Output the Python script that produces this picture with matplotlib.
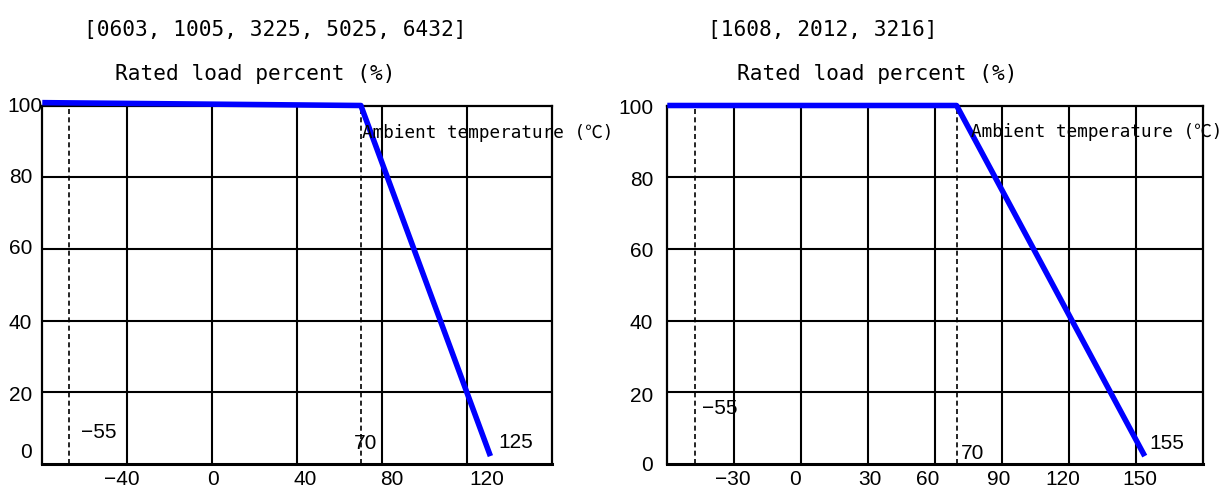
import matplotlib
matplotlib.use('Agg')
import matplotlib.pyplot as plt

# left chart: [0603, 1005, 3225, 5025, 6432]
left_title = '[0603, 1005, 3225, 5025, 6432]'
left_xlim = (-80, 160)
left_grid_x = [-40, 0, 40, 80, 120]
left_xtick_pos = [-42.7, 0.3, 43.7, 84.5, 129.3]
left_xtick_lab = ['\u221240', '0', '40', '80', '120']
left_ytick_pos = [99.6, 79.8, 60, 39.3, 19.2, 3.1]
left_curve_x = [-80, 70, 131]
left_curve_y = [100.8, 100, 2.2]
left_dash_x = [-67.2, 69.9]
left_notes = [('\u221255', -53.4, 8.7), ('70', 72.3, 5.6), ('125', 143, 5.9)]
left_ambient = (70.4, 92.3)

# right chart: [1608, 2012, 3216]
right_title = '[1608, 2012, 3216]'
right_xlim = (-60, 180)
right_grid_x = [-30, 0, 30, 60, 90, 120, 150]
right_xtick_pos = [-30.7, -3, 31, 56.8, 88.5, 117.3, 151.7]
right_xtick_lab = ['\u221230', '0', '30', '60', '90', '120', '150']
right_ytick_pos = [99.2, 79.2, 59.4, 39.2, 18.8, -0.5]
right_curve_x = [-60, 69.6, 153.9]
right_curve_y = [100, 100, 2.2]
right_dash_x = [-47.7, 69.6]
right_notes = [('\u221255', -36.3, 15.5), ('70', 76.6, 2.8), ('155', 164, 5.8)]
right_ambient = (76.2, 92.6)

grid_y = [20, 40, 60, 80]
ytick_lab = ['100', '80', '60', '40', '20', '0']

num_font = ['Liberation Sans Narrow', 'Liberation Sans', 'DejaVu Sans']
mono_font = ['DejaVu Sans Mono', 'Noto Sans CJK KR']

fig = plt.figure(figsize=(12.27, 4.88), dpi=100)


def draw(rect, title, title_cx, rated_cx, xlim, grid_x, xpos, xlab, ypos,
         cx, cy, dash_x, notes, amb, lab_gap, first_gap):
    ax = fig.add_axes(rect)
    ax.set_xlim(*xlim)
    ax.set_ylim(0, 100)
    for gx in grid_x:
        ax.axvline(gx, color='black', lw=1.5, zorder=1)
    for gy in grid_y:
        ax.axhline(gy, color='black', lw=1.5, zorder=1)
    for dx in dash_x:
        ax.axvline(dx, color='black', lw=1.2, ls=(0, (3, 2)), zorder=2)
    ax.plot(cx, cy, color='#0000ff', lw=4, solid_capstyle='butt',
            clip_on=False, zorder=3)
    for s in ax.spines.values():
        s.set_linewidth(1.6)
    ax.spines['bottom'].set_linewidth(2.2)
    ax.set_xticks(xpos, xlab, fontfamily=num_font, fontsize=15)
    ax.tick_params(axis='x', length=0, pad=4)
    ax.set_yticks([])
    ytr = ax.get_yaxis_transform()
    w = rect[2] * 1227
    for i, (p, l) in enumerate(zip(ypos, ytick_lab)):
        gap = first_gap if i == 0 else lab_gap
        ax.text(-gap / w, p, l, transform=ytr, ha='right', va='center',
                family=num_font, fontsize=15)
    for t, x, y in notes:
        ax.text(x, y, t, ha='center', va='center', family=num_font,
                fontsize=15, zorder=4)
    ax.text(amb[0], amb[1], 'Ambient temperature (\u2103)', ha='left',
            va='center', family=mono_font, fontsize=12.7, zorder=4)
    fig.text(title_cx / 1227, 1 - 30 / 488, title, ha='center', va='center',
             family=mono_font, fontsize=15.2)
    fig.text(rated_cx / 1227, 1 - 74 / 488, 'Rated load percent (%)',
             ha='center', va='center', family=mono_font, fontsize=15.2)
    return ax


draw([42.3 / 1227, 24 / 488, 509.7 / 1227, 358.5 / 488], left_title, 275, 255,
     left_xlim, left_grid_x, left_xtick_pos, left_xtick_lab, left_ytick_pos,
     left_curve_x, left_curve_y, left_dash_x, left_notes, left_ambient, 10, 0)
draw([667.3 / 1227, 24 / 488, 535.7 / 1227, 358.5 / 488], right_title, 822.5, 877,
     right_xlim, right_grid_x, right_xtick_pos, right_xtick_lab, right_ytick_pos,
     right_curve_x, right_curve_y, right_dash_x, right_notes, right_ambient, 14, 14)

fig.savefig('out.png', dpi=100)
